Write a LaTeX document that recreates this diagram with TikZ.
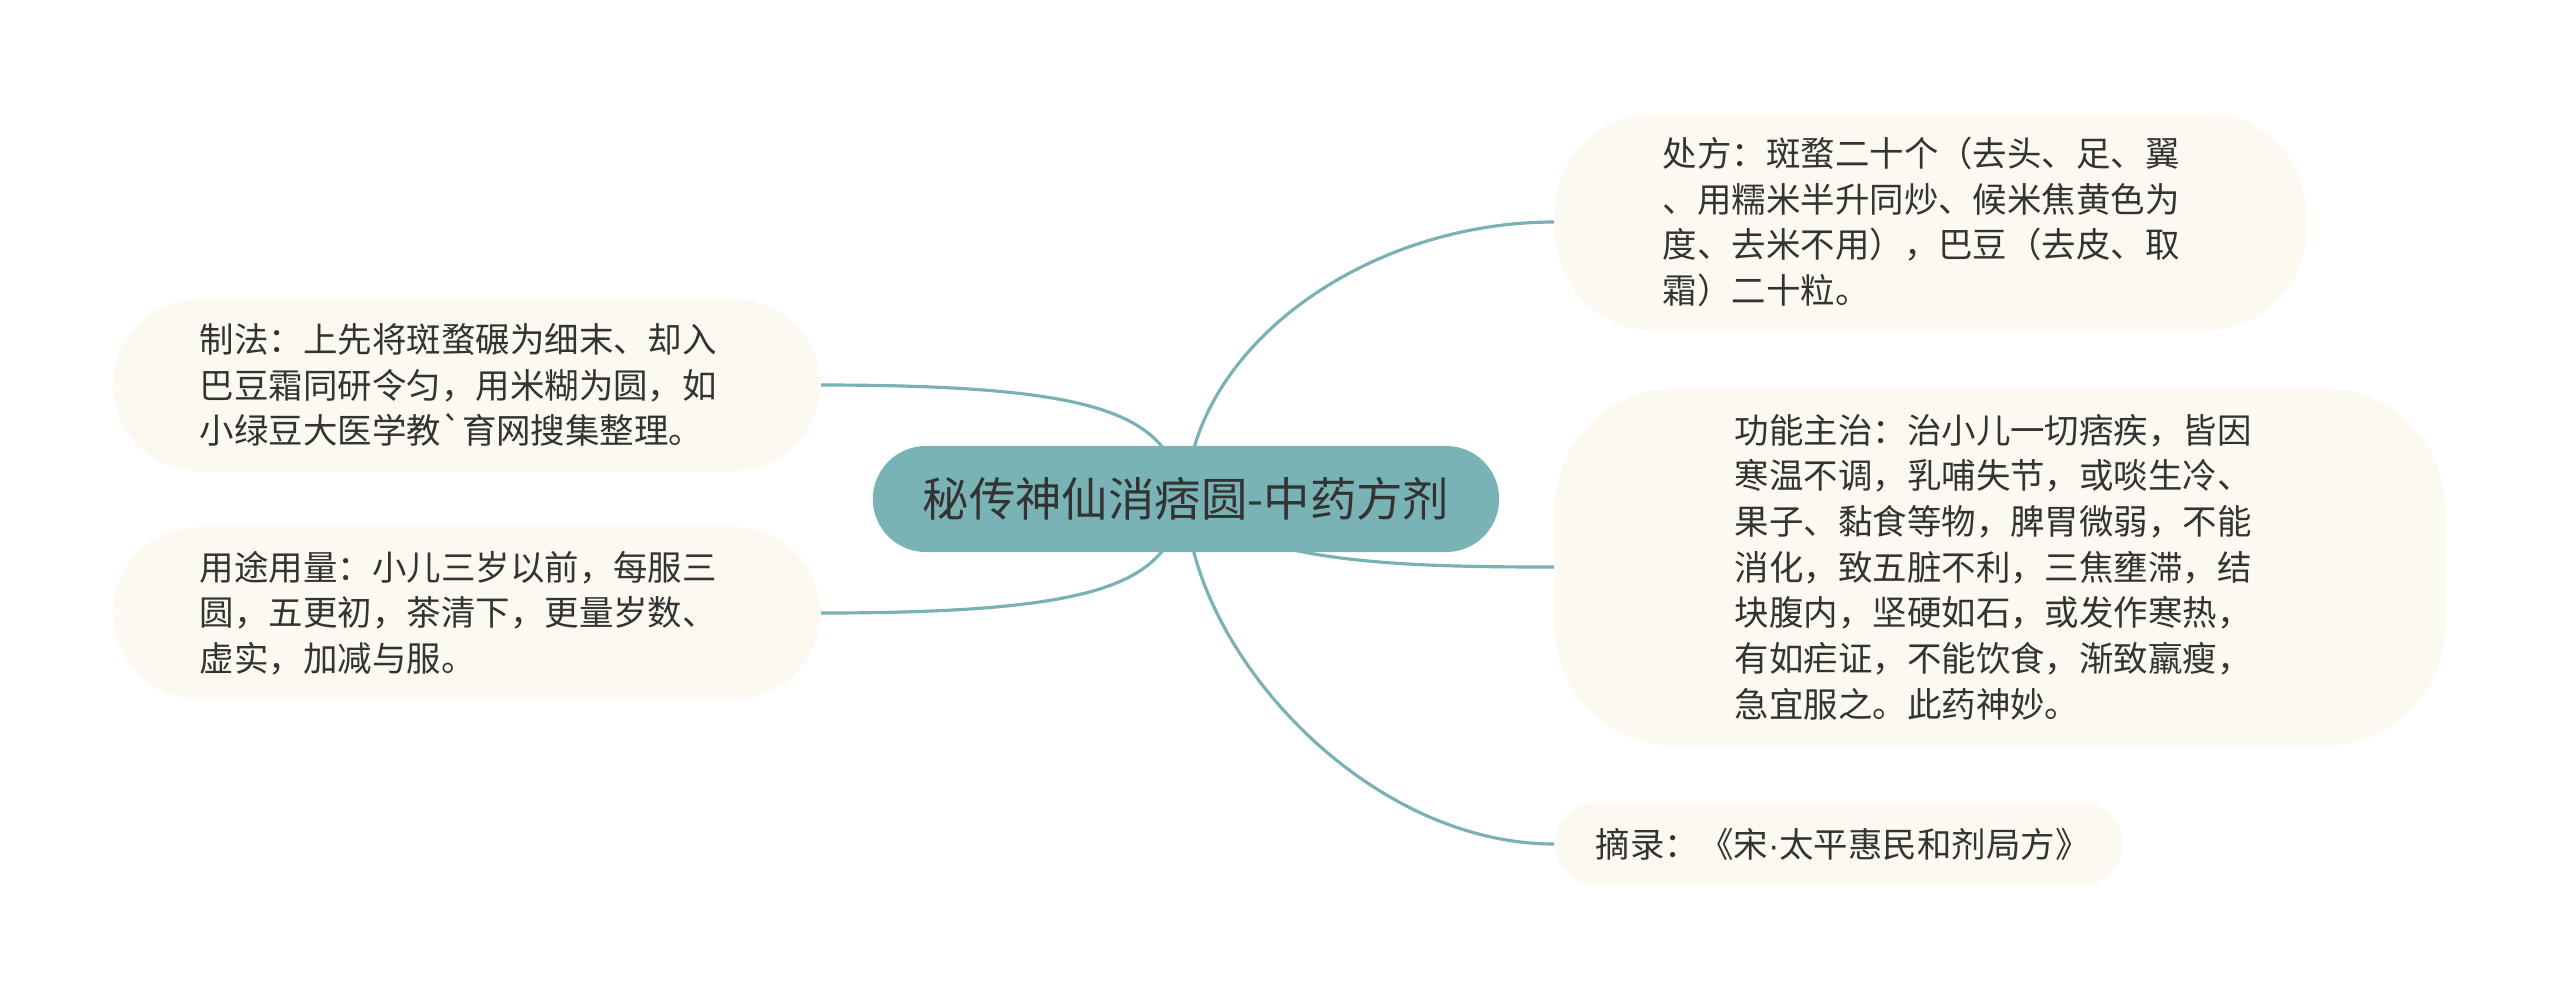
\documentclass[tikz,border=0pt]{standalone}
\usepackage{fontspec}
\usepackage{xcolor}
\usepackage{tikz}
\usetikzlibrary{positioning,backgrounds}
\newfontfamily\cjk{Noto Sans CJK SC}
\newfontfamily\latin{Liberation Sans}
\definecolor{rootfill}{HTML}{7AB3B5}
\definecolor{leaffill}{HTML}{FCFAF0}
\definecolor{linkcol}{HTML}{7AB1B3}
\definecolor{inkcol}{HTML}{333333}

\begin{document}
\begin{tikzpicture}
  [
    x=0.01cm, y=-0.01cm,
    root/.style={fill=rootfill,text=inkcol,rounded corners=0.53cm,inner sep=0pt,
      minimum width=6.26cm,minimum height=1.06cm,font=\cjk\fontsize{13.2pt}{15pt}\selectfont},
    leaf/.style={fill=leaffill,text=inkcol,align=left,inner ysep=0pt,
      font=\cjk\fontsize{9.8pt}{13pt}\selectfont},
    link/.style={draw=linkcol,line width=0.9pt}
  ]
  \useasboundingbox (0,0) rectangle (2560,999);
  \node[root] (root) at (1186,499) {秘传神仙消痞圆-中药方剂};
  \node[leaf,anchor=west,text width=5.35cm,inner xsep=1.08cm,minimum height=2.17cm,
    rounded corners=1cm] (chufang) at (1554,222)
    {处方：斑蝥二十个（去头、足、翼\\、用糯米半升同炒、候米焦黄色为\\度、去米不用），巴豆（去皮、取\\霜）二十粒。};
  \node[leaf,anchor=west,text width=5.3cm,inner xsep=1.8cm,minimum height=3.57cm,
    rounded corners=1.2cm] (gongneng) at (1554,567)
    {功能主治：治小儿一切痞疾，皆因\\寒温不调，乳哺失节，或啖生冷、\\果子、黏食等物，脾胃微弱，不能\\消化，致五脏不利，三焦壅滞，结\\块腹内，坚硬如石，或发作寒热，\\有如疟证，不能饮食，渐致羸瘦，\\急宜服之。此药神妙。};
  \node[leaf,anchor=west,text width=4.86cm,inner xsep=0.41cm,minimum height=0.82cm,
    rounded corners=0.41cm] (zhailu) at (1554,844)
    {摘录：《宋{\latin ·}太平惠民和剂局方》};
  \node[leaf,anchor=east,text width=5.33cm,inner xsep=0.87cm,minimum height=1.72cm,
    rounded corners=0.86cm] (zhifa) at (821,385)
    {制法：上先将斑蝥碾为细末、却入\\巴豆霜同研令匀，用米糊为圆，如\\小绿豆大医学教`育网搜集整理。};
  \node[leaf,anchor=east,text width=5.33cm,inner xsep=0.87cm,minimum height=1.72cm,
    rounded corners=0.86cm] (yongtu) at (821,613)
    {用途用量：小儿三岁以前，每服三\\圆，五更初，茶清下，更量岁数、\\虚实，加减与服。};
  \begin{scope}[on background layer]
    \draw[link] (root.center) .. controls +(4,-150) and +(-190,0) .. (chufang.west);
    \draw[link] (root.center) .. controls +(60,65) and +(-150,0) .. (gongneng.west);
    \draw[link] (root.center) .. controls +(4,150) and +(-190,0) .. (zhailu.west);
    \draw[link] (root.center) .. controls +(-20,-80) and +(300,0) .. (zhifa.east);
    \draw[link] (root.center) .. controls +(-20,80) and +(300,0) .. (yongtu.east);
  \end{scope}
\end{tikzpicture}
\end{document}
